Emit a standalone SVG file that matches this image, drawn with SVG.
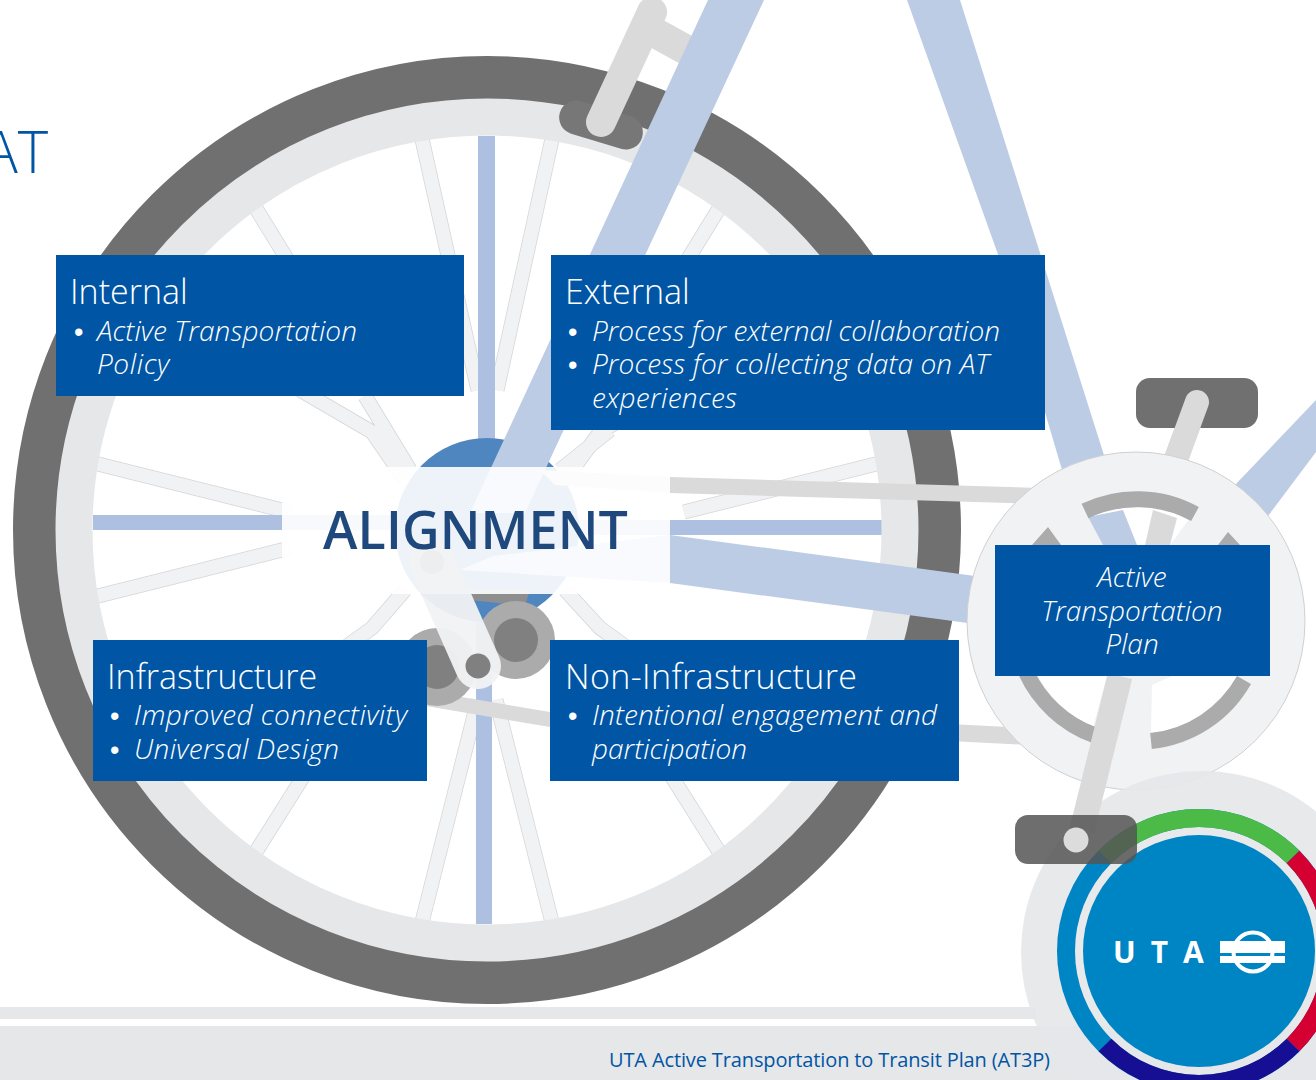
<svg xmlns="http://www.w3.org/2000/svg" width="1316" height="1080" viewBox="0 0 1316 1080">
<style>
text{font-family:"Open Sans","Noto Sans","Liberation Sans",sans-serif;fill:#fff}
.box{fill:#0055a5}
.h{font-size:34px;font-weight:300}
.b{font-size:28px;font-weight:300;font-style:italic}
.u{font-family:"Liberation Sans",sans-serif;font-size:27px}
.fr{fill:#bccce4}
.cr{fill:none;stroke:#dadada}
.arc{fill:none;stroke:#ababab;stroke-width:16}
.ax{fill:#adc0e2}
</style>
<defs>
<g id="spokes">
<path d="M420 130L478 390M554 130L497 390M420 930L478 700M554 930L496 700M90 462L290 512M90 598L290 548M884 462L684 512M884 598L684 548M252 202L300 280M723 202L675 280M252 858L320 750M723 858L655 750M300 390L372 432L405 480M365 396L410 470M672 390L600 432L565 480M610 430L560 470M300 680L372 628L405 590M672 680L600 628L565 590"/>
</g>
</defs>
<rect width="1316" height="1080" fill="#fff"/>
<g id="ground">
<rect x="0" y="1007" width="1036" height="12" fill="#e6e7e9"/>
<rect x="0" y="1026" width="1316" height="54" fill="#e6e7e9"/>
</g>
<g id="wheel">
<use href="#spokes" style="fill:none;stroke:#d4d5d7;stroke-width:15"/>
<use href="#spokes" style="fill:none;stroke:#f1f2f3;stroke-width:13.5"/>
<rect class="ax" x="478" y="136" width="17" height="400"/>
<rect class="ax" x="476" y="530" width="16" height="394"/>
<rect class="ax" x="93" y="515" width="400" height="15"/>
<rect class="ax" x="480" y="520" width="402" height="15"/>
<circle cx="487" cy="530" r="452" fill="none" stroke="#707070" stroke-width="44"/>
<circle cx="487" cy="530" r="413" fill="none" stroke="#e6e7e9" stroke-width="37"/>
<circle cx="487" cy="530" r="92" fill="#4f86bf"/>
</g>
<g id="brake">
<rect x="558" y="108" width="86" height="34" rx="17" fill="#777" transform="rotate(17 601 125)"/>
<path class="cr" stroke-width="30" d="M650 30L690 52"/>
<path class="cr" stroke-width="30" stroke-linecap="round" d="M601 122L652 12"/>
</g>
<g id="frame">
<path class="fr" d="M708 0H764L525 513H470Z"/>
<path class="fr" d="M907 0H960L1115 490L1065 480L1000 260Z"/>
<path class="fr" d="M1316 400V452L1268 516L1235 485Z"/>
<path class="fr" d="M460 570L493 556L670 535L975 576V624L670 583Z"/>
<path fill="#dadada" d="M540 470L670 477L1040 488V504L670 493L555 485Z"/>
<path fill="#dadada" d="M420 690L550 712V727L420 705Z"/>
<path fill="#dadada" d="M950 724L1030 728V745L950 741Z"/>
<path fill="#8e8e8e" d="M460 590L530 590L525 606L470 600Z"/>
<circle cx="437" cy="667" r="39" fill="#ababab"/><circle cx="437" cy="667" r="22" fill="#808080"/>
<circle cx="516" cy="640" r="39" fill="#ababab"/><circle cx="516" cy="640" r="22" fill="#808080"/>
</g>
<g id="band">
<rect x="282" y="467" width="388" height="127" fill="#fff" opacity=".9"/>
<path d="M432 562L478 666" fill="none" stroke="#f1f2f4" stroke-width="46" stroke-linecap="round" opacity=".95"/>
<circle cx="432" cy="562" r="12" fill="#eee"/>
<circle cx="478" cy="666" r="12.5" fill="#808080"/>
<text x="323" y="549" style="fill:#1f497d;font-size:52px;font-weight:600" textLength="305">ALIGNMENT</text>
</g>
<g id="chainring">
<path class="cr" stroke-width="24" d="M1197 402L1172 470"/>
<rect x="1136" y="378" width="122" height="50" rx="14" fill="#707070"/>
<path class="cr" stroke-width="24" stroke-linecap="round" d="M1197 402L1172 470"/>
<circle cx="1136" cy="621" r="169" fill="#f1f2f4" stroke="#cfd0d2"/>
<path fill="#fff" d="M1088 517A113 113 0 0 1 1190 518L1170 545H1103Z"/>
<path class="fr" d="M1088 517L1123 510L1137 545H1103Z"/>
<path fill="#dadada" d="M1153 510L1177 518L1170 545H1145Z"/>
<path class="arc" d="M1085 511A121 121 0 0 1 1195 514"/>
<path fill="#ababab" d="M1048 527L1032 545H1061ZM1228 532L1218 545H1240Z"/>
<path fill="#fff" d="M1038 676A113 113 0 0 0 1093 727L1107 676Z"/>
<path fill="#fff" d="M1152 685L1151 733A113 113 0 0 0 1237 676H1172Z"/>
<path class="arc" d="M1026 672A121 121 0 0 0 1094 735"/>
<path class="arc" d="M1151 741A121 121 0 0 0 1244 680"/>
</g>
<g id="logo">
<circle cx="1202" cy="952" r="181" fill="#e6e7e9" opacity=".92"/>
<circle cx="1199" cy="951" r="133" fill="none" stroke="#0085c4" stroke-width="18"/>
<path d="M1105 857A133 133 0 0 1 1293 857" fill="none" stroke="#4bba46" stroke-width="18"/>
<path d="M1293 857A133 133 0 0 1 1293 1045" fill="none" stroke="#d40032" stroke-width="18"/>
<path d="M1105 1045A133 133 0 0 0 1293 1045" fill="none" stroke="#160f93" stroke-width="18"/>
<circle cx="1199" cy="951" r="116" fill="#0085c4"/>
<text x="1113" y="963" style="font-size:30px;font-weight:700;letter-spacing:15px">UTA</text>
<circle cx="1253" cy="952" r="19.5" fill="none" stroke="#fff" stroke-width="4"/>
<rect x="1220" y="941" width="65" height="12" fill="#fff"/>
<rect x="1220" y="956" width="65" height="7" fill="#fff"/>
</g>
<g id="pedal">
<path class="cr" stroke-width="25" d="M1120 676L1082 830"/>
<rect x="1015" y="815" width="122" height="49" rx="13" fill="#555" opacity=".85"/>
<circle cx="1076" cy="840" r="12.5" fill="#dcdcdc"/>
</g>
<g id="title"><text x="-17" y="173" style="fill:#0055a5;font-size:58px;font-weight:300">AT</text></g>
<g id="internal">
<rect class="box" x="56" y="255" width="408" height="141"/>
<text class="h" x="70" y="304">Internal</text>
<text class="u" x="74" y="341">•</text>
<text class="b" x="97" y="341" textLength="260">Active Transportation</text>
<text class="b" x="97" y="374" textLength="72">Policy</text>
</g>
<g id="external">
<rect class="box" x="551" y="255" width="494" height="175"/>
<text class="h" x="565" y="304">External</text>
<text class="u" x="568" y="341">•</text>
<text class="b" x="592" y="341" textLength="408">Process for external collaboration</text>
<text class="u" x="568" y="374">•</text>
<text class="b" x="592" y="374" textLength="397">Process for collecting data on AT</text>
<text class="b" x="592" y="408" textLength="145">experiences</text>
</g>
<g id="infrastructure">
<rect class="box" x="93" y="640" width="334" height="141"/>
<text class="h" x="107" y="689">Infrastructure</text>
<text class="u" x="110" y="725">•</text>
<text class="b" x="134" y="725" textLength="273">Improved connectivity</text>
<text class="u" x="110" y="759">•</text>
<text class="b" x="134" y="759" textLength="205">Universal Design</text>
</g>
<g id="non-infrastructure">
<rect class="box" x="550" y="640" width="409" height="141"/>
<text class="h" x="565" y="689" textLength="292">Non-Infrastructure</text>
<text class="u" x="568" y="725">•</text>
<text class="b" x="592" y="725" textLength="345">Intentional engagement and</text>
<text class="b" x="592" y="759" textLength="155">participation</text>
</g>
<g id="plan">
<rect class="box" x="995" y="545" width="275" height="131"/>
<text class="b" x="1132" y="587" text-anchor="middle">Active</text>
<text class="b" x="1132" y="621" text-anchor="middle">Transportation</text>
<text class="b" x="1132" y="654" text-anchor="middle">Plan</text>
</g>
<g id="connectors"></g>
<g id="footer"><text x="609" y="1067" style="fill:#0055a5;font-size:20px" textLength="441">UTA Active Transportation to Transit Plan (AT3P)</text></g>
</svg>
